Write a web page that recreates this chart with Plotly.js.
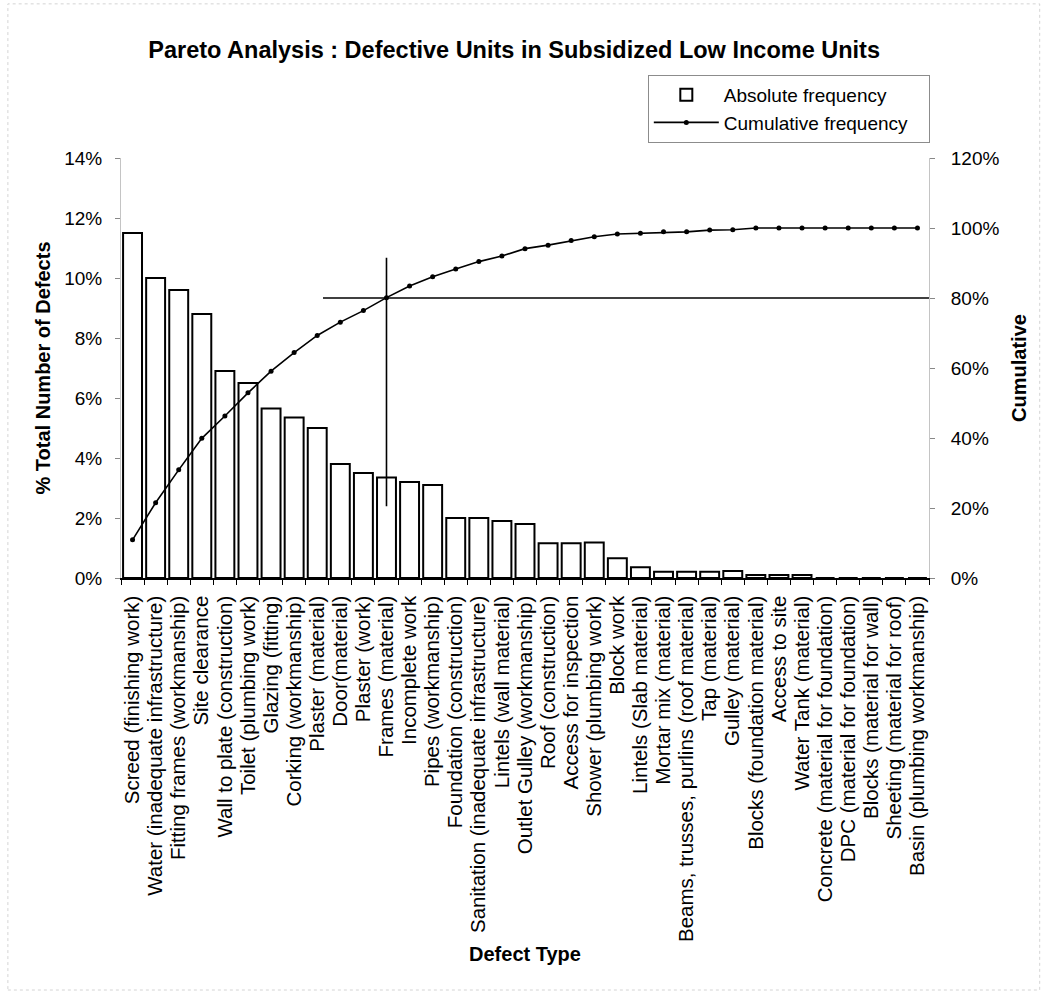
<!DOCTYPE html>
<html>
<head>
<meta charset="utf-8">
<script src="https://cdn.plot.ly/plotly-3.0.1.min.js"></script>
<style>
  html, body { margin: 0; padding: 0; background: #ffffff; }
  #chart { width: 1045px; height: 996px; }
</style>
</head>
<body>
<div id="chart"></div>
<script>
// Defect categories, sorted by share of all recorded defects
const defectTypes = [
  'Screed (finishing work)',
  'Water (inadequate infrastructure)',
  'Fitting frames (workmanship)',
  'Site clearance',
  'Wall to plate (construction)',
  'Toilet (plumbing work)',
  'Glazing (fitting)',
  'Corking (workmanship)',
  'Plaster (material)',
  'Door(material)',
  'Plaster (work)',
  'Frames (material)',
  'Incomplete work',
  'Pipes (workmanship)',
  'Foundation (construction)',
  'Sanitation (inadequate infrastructure)',
  'Lintels (wall material)',
  'Outlet Gulley (workmanship)',
  'Roof (construction)',
  'Access for inspection',
  'Shower (plumbing work)',
  'Block work',
  'Lintels (Slab material)',
  'Mortar mix (material)',
  'Beams, trusses, purlins (roof material)',
  'Tap (material)',
  'Gulley (material)',
  'Blocks (foundation material)',
  'Access to site',
  'Water Tank (material)',
  'Concrete (material for foundation)',
  'DPC (material for foundation)',
  'Blocks (material for wall)',
  'Sheeting (material for roof)',
  'Basin (plumbing workmanship)'
];

// % of total number of defects (left axis)
const absoluteFrequency = [
  11.5, 10.0, 9.6, 8.8, 6.9, 6.5, 5.65, 5.35, 5.0, 3.8,
  3.5, 3.35, 3.2, 3.1, 2.0, 2.0, 1.9, 1.8, 1.16, 1.16,
  1.18, 0.66, 0.36, 0.21, 0.21, 0.21, 0.23, 0.1, 0.1, 0.1,
  0, 0, 0, 0, 0
];

// Cumulative % (right axis)
const cumulativeFrequency = [
  10.9, 21.5, 30.9, 39.9, 46.3, 52.9, 59.1, 64.4, 69.3, 73.1,
  76.4, 80.1, 83.4, 86.1, 88.3, 90.4, 92.0, 94.1, 95.1, 96.4,
  97.5, 98.3, 98.5, 98.9, 98.9, 99.4, 99.5, 100, 100, 100,
  100, 100, 100, 100, 100
];

// Legend entries
const seriesNames = ['Absolute frequency', 'Cumulative frequency\u00a0\u00a0\u00a0'];

// 80 % cut-off marker
const paretoCutoff = 80;
const cutoffDefect = 'Frames (material)';
const cutoffLineStart = 8.25;            // category position where the 80 % rule starts
const cutoffVerticalSpan = [20.5, 91.5]; // extent of the vertical marker, right-axis units

const fontFamily = 'Liberation Sans, Arial, sans-serif';

const traces = [
  {
    type: 'bar',
    name: seriesNames[0],
    x: defectTypes,
    y: absoluteFrequency,
    marker: { color: '#ffffff', line: { color: '#000000', width: 2 } },
    yaxis: 'y'
  },
  {
    type: 'scatter',
    mode: 'lines+markers',
    name: seriesNames[1],
    x: defectTypes,
    y: cumulativeFrequency,
    line: { color: '#000000', width: 1.6 },
    marker: { color: '#000000', size: 5 },
    yaxis: 'y2'
  }
];

const lastIndex = defectTypes.length - 0.5;

const layout = {
  width: 1045,
  height: 996,
  paper_bgcolor: '#ffffff',
  plot_bgcolor: '#ffffff',
  margin: { l: 121, r: 116, t: 158, b: 418 },
  font: { family: fontFamily, color: '#000000', size: 20 },
  title: {
    text: '<b>Pareto Analysis : Defective Units in Subsidized Low Income Units</b>',
    font: { family: fontFamily, size: 23.5, color: '#000000' },
    x: 0.492, xref: 'container', xanchor: 'center',
    y: 0.95, yref: 'container', yanchor: 'middle'
  },
  bargap: 0.18,
  showlegend: true,
  legend: {
    x: 0.652, y: 1.198, xanchor: 'left', yanchor: 'top',
    xref: 'paper', yref: 'paper',
    bgcolor: '#ffffff',
    bordercolor: '#8c8c8c', borderwidth: 1,
    font: { family: fontFamily, size: 19, color: '#000000' },
    tracegroupgap: 2,
    itemwidth: 65
  },
  xaxis: {
    type: 'category',
    tickmode: 'array',
    tickvals: defectTypes,
    ticktext: defectTypes,
    tickangle: -90,
    tickfont: { family: fontFamily, size: 20.5, color: '#000000' },
    ticks: 'outside', tickson: 'boundaries', ticklen: 5, tickcolor: '#000000',
    ticklabelstandoff: 8,
    showline: true, linecolor: '#000000', linewidth: 1.5,
    showgrid: false, zeroline: false,
    range: [-0.5, lastIndex],
    automargin: false,
    title: {
      text: '<b>Defect Type</b>',
      font: { family: fontFamily, size: 20, color: '#000000' },
      standoff: 6
    }
  },
  yaxis: {
    range: [0, 14],
    dtick: 2,
    ticksuffix: '%',
    tickfont: { family: fontFamily, size: 19, color: '#000000' },
    ticks: 'outside', ticklen: 5, tickcolor: '#888888',
    ticklabelstandoff: 9,
    showline: true, linecolor: '#c4c4c4', linewidth: 1,
    showgrid: false, zeroline: false,
    automargin: false,
    title: {
      text: '<b>% Total Number of Defects</b>',
      font: { family: fontFamily, size: 20, color: '#000000' },
      standoff: 8
    }
  },
  yaxis2: {
    overlaying: 'y',
    side: 'right',
    range: [0, 120],
    dtick: 20,
    ticksuffix: '%',
    tickfont: { family: fontFamily, size: 19, color: '#000000' },
    ticks: 'outside', ticklen: 5, tickcolor: '#888888',
    ticklabelstandoff: 12,
    showline: true, linecolor: '#c4c4c4', linewidth: 1,
    showgrid: false, zeroline: false,
    automargin: false,
    title: {
      text: '<b>Cumulative</b>',
      font: { family: fontFamily, size: 20, color: '#000000' },
      standoff: 13
    }
  },
  shapes: [
    // 80 % horizontal rule
    {
      type: 'line', xref: 'x', yref: 'y2',
      x0: cutoffLineStart, x1: lastIndex,
      y0: paretoCutoff, y1: paretoCutoff,
      line: { color: '#000000', width: 1.6 }
    },
    // vertical marker at the category where the cumulative share reaches 80 %
    {
      type: 'line', xref: 'x', yref: 'y2',
      x0: cutoffDefect, x1: cutoffDefect,
      y0: cutoffVerticalSpan[0], y1: cutoffVerticalSpan[1],
      line: { color: '#000000', width: 1.6 }
    },
    // light page frame
    {
      type: 'rect', xref: 'paper', yref: 'paper',
      x0: -0.14, x1: 1.137, y0: -0.981, y1: 1.367,
      line: { color: '#d4d4d4', width: 1, dash: 'dot' },
      layer: 'below'
    }
  ]
};

Plotly.newPlot('chart', traces, layout, { displayModeBar: false, responsive: false, staticPlot: true });
</script>
</body>
</html>
